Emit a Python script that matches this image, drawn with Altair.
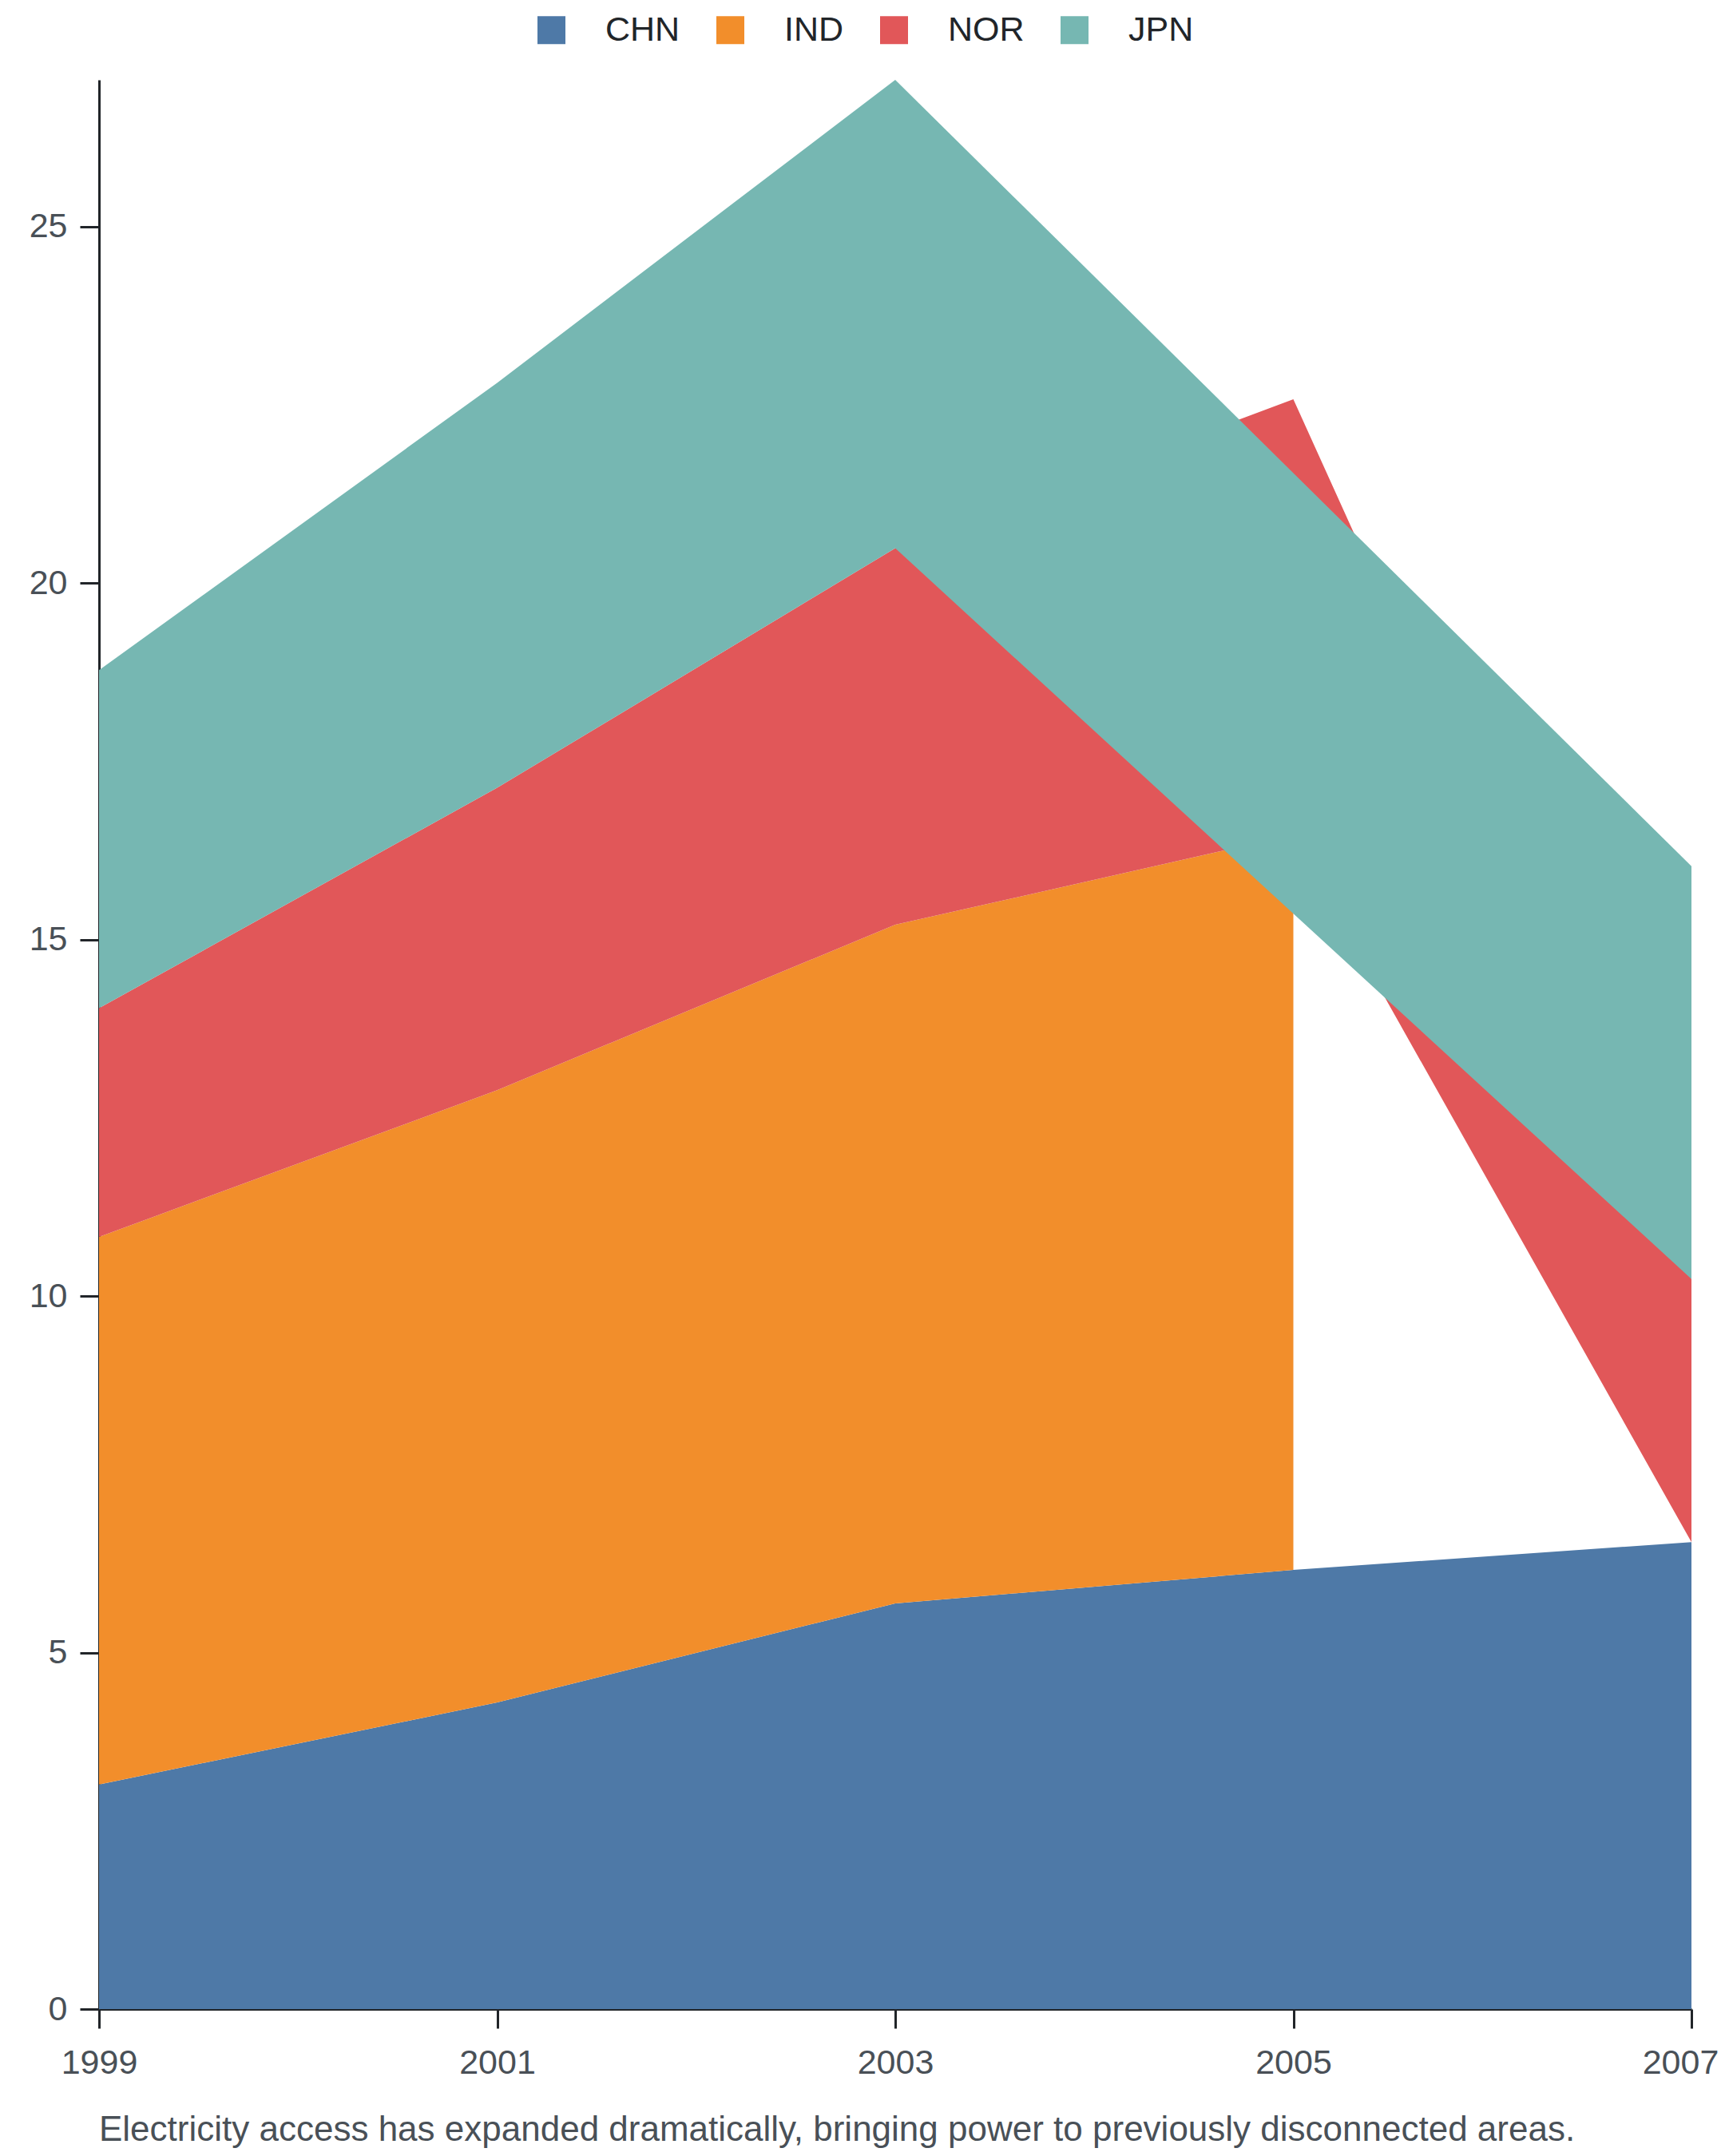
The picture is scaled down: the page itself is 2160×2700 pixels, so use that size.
import altair as alt
import pandas as pd

# ---- data ----
years = [1999, 2001, 2003, 2005, 2007]
countries = ["CHN", "IND", "NOR", "JPN"]
colors = ["#4e79a7", "#f28e2b", "#e15759", "#76b7b2"]
chn = [3.15, 4.30, 5.69, 6.16, 6.55]
ind = [7.68, 8.59, 9.52, 10.31, None]
nor = [3.21, 4.24, 5.28, 6.11, 3.69]
jpn = [4.74, 5.68, 6.57, None, 5.79]
x_ticks = [1999, 2001, 2003, 2005, 2007]
y_ticks = [0, 5, 10, 15, 20, 25]
caption = "Electricity access has expanded dramatically, bringing power to previously disconnected areas."

series = {"CHN": chn, "IND": ind, "NOR": nor, "JPN": jpn}

# stack the series (missing values are skipped); a gap is bridged by a new path segment
rows = []
base = [0.0] * len(years)
for c in countries:
    vals = series[c]
    lohi = {}
    for i, v in enumerate(vals):
        if v is None:
            continue
        lohi[i] = (base[i], base[i] + v)
        base[i] = base[i] + v
    valid = sorted(lohi)
    seg = 0
    for k, i in enumerate(valid):
        if k > 0 and i - valid[k - 1] > 1:
            seg += 1
            p = valid[k - 1]
            rows.append({"country": c, "seg": f"{c}{seg}", "year": years[p],
                         "lo": lohi[p][0], "hi": lohi[p][1]})
        rows.append({"country": c, "seg": f"{c}{seg}", "year": years[i],
                     "lo": lohi[i][0], "hi": lohi[i][1]})

df = pd.DataFrame(rows)

FONT = "Liberation Sans, Arial, Helvetica, sans-serif"

color = alt.Color(
    "country:N",
    scale=alt.Scale(domain=countries, range=colors),
    legend=alt.Legend(
        orient="none",
        legendX=545,
        legendY=-84,
        direction="horizontal",
        title=None,
        symbolType="square",
        symbolSize=1225,
        symbolStrokeWidth=0,
        symbolOpacity=1,
        labelFont=FONT,
        labelFontSize=43,
        labelColor="#212529",
        labelOffset=46,
        columnPadding=41,
    ),
)

x = alt.X(
    "year:Q",
    scale=alt.Scale(domain=[1999, 2007], nice=False, zero=False),
    axis=alt.Axis(
        title=None,
        values=x_ticks,
        format="d",
        grid=False,
        labelFlush=False,
        labelOffset={"condition": {"test": "datum.value == 2007", "value": -14}, "value": 0},
        labelFont=FONT,
        labelFontSize=43,
        labelColor="#495057",
        labelPadding=22,
        tickSize=24,
        tickWidth=3,
        tickColor="#212529",
        domainColor="#212529",
        domainWidth=3,
    ),
)
y = alt.Y(
    "hi:Q",
    scale=alt.Scale(nice=False, zero=True),
    axis=alt.Axis(
        title=None,
        values=y_ticks,
        grid=False,
        labelFont=FONT,
        labelFontSize=43,
        labelColor="#495057",
        labelPadding=16,
        tickSize=24,
        tickWidth=3,
        tickColor="#212529",
        domainColor="#212529",
        domainWidth=3,
    ),
)

layers = []
for c in countries:
    layers.append(
        alt.Chart(df)
        .transform_filter(alt.datum.country == c)
        .mark_area(opacity=1)
        .encode(x=x, y=y, y2="lo:Q", color=color, detail="seg:N")
    )

chart = (
    alt.layer(*layers)
    .properties(
        width=1994,
        height=2416,
        autosize=alt.AutoSizeParams(type="none"),
        padding={"left": 116, "top": 92, "right": 34, "bottom": 176},
        title=alt.TitleParams(
            text=caption,
            orient="bottom",
            anchor="start",
            frame="group",
            font=FONT,
            fontSize=44,
            fontWeight="normal",
            color="#495057",
            offset=41,
        ),
    )
    .configure_view(stroke=None)
)

chart.save("out.html", embed_options={"renderer": "svg", "actions": False})
